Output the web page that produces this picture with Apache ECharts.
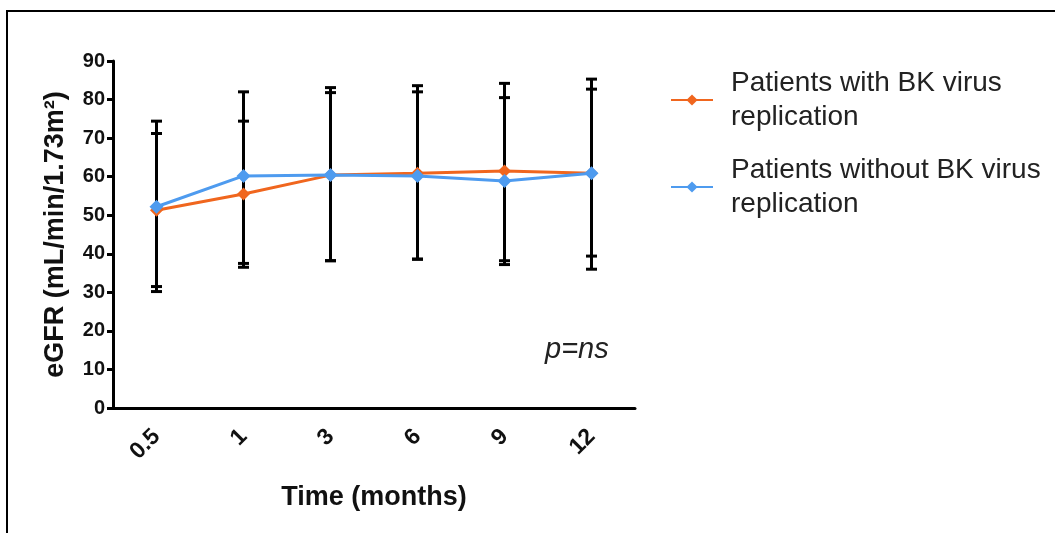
<!DOCTYPE html>
<html><head><meta charset="utf-8">
<script src="https://cdn.jsdelivr.net/npm/echarts@6/dist/echarts.min.js"></script>
<style>html,body{margin:0;padding:0;background:#fff}#c{width:1055px;height:533px}</style>
</head><body><div id="c"></div>
<script>
const categories = ['0.5', '1', '3', '6', '9', '12'];
const yTicks = [0, 10, 20, 30, 40, 50, 60, 70, 80, 90];
const withBK = [51.3, 55.5, 60.4, 60.9, 61.5, 60.9];
const withBKUpper = [71.2, 74.4, 81.8, 83.6, 84.2, 85.3];
const withBKLower = [31.5, 36.5, 38.2, 38.6, 38.2, 36.0];
const withoutBK = [52.2, 60.2, 60.4, 60.2, 58.9, 60.9];
const withoutBKUpper = [74.4, 82.0, 83.1, 82.0, 80.5, 82.7];
const withoutBKLower = [30.2, 37.5, 38.2, 38.6, 37.2, 39.4];
const nameWith = 'Patients with BK virus\nreplication';
const nameWithout = 'Patients without BK virus\nreplication';

const chart = echarts.init(document.getElementById('c'));
const font = '"Liberation Sans", Arial, sans-serif';

function errData(lo, hi) { return categories.map((c, i) => [i, lo[i], hi[i]]); }
function renderErr(params, api) {
  const x = api.value(0);
  const lo = api.coord([x, api.value(1)]);
  const hi = api.coord([x, api.value(2)]);
  const w = 5.5;
  const st = { stroke: '#000', lineWidth: 3 };
  return { type: 'group', children: [
    { type: 'line', shape: { x1: lo[0], y1: lo[1], x2: hi[0], y2: hi[1] }, style: st },
    { type: 'line', shape: { x1: lo[0] - w, y1: lo[1], x2: lo[0] + w, y2: lo[1] }, style: st },
    { type: 'line', shape: { x1: hi[0] - w, y1: hi[1], x2: hi[0] + w, y2: hi[1] }, style: st }
  ]};
}

chart.setOption({
  animation: false,
  backgroundColor: '#fff',
  grid: { left: 113, right: 420, top: 61, bottom: 125 },
  xAxis: {
    type: 'category', data: categories, boundaryGap: true,
    name: 'Time (months)', nameLocation: 'middle', nameGap: 76,
    nameTextStyle: { fontFamily: font, fontWeight: 'bold', fontSize: 27, color: '#111' },
    axisLine: { lineStyle: { color: '#000', width: 3 } },
    axisTick: { alignWithLabel: true, length: 9, lineStyle: { color: '#000', width: 3 } },
    axisLabel: { rotate: 45, fontFamily: font, fontWeight: 'bold', fontSize: 23, color: '#111', margin: 25 }
  },
  yAxis: {
    type: 'value', min: yTicks[0], max: yTicks[yTicks.length - 1], interval: 10,
    name: 'eGFR (mL/min/1.73m²)', nameLocation: 'middle', nameGap: 44,
    nameTextStyle: { fontFamily: font, fontWeight: 'bold', fontSize: 27, color: '#111' },
    axisLine: { show: true, lineStyle: { color: '#000', width: 3 } },
    axisTick: { show: true, length: 6, lineStyle: { color: '#000', width: 3 } },
    axisLabel: { fontFamily: font, fontWeight: 'bold', fontSize: 20, color: '#111', margin: 8 },
    splitLine: { show: false }
  },
  legend: {
    data: [nameWith, nameWithout], orient: 'vertical', left: 670, top: 66, padding: 0,
    itemWidth: 42, itemHeight: 14, itemGap: 19,
    textStyle: { fontFamily: font, fontSize: 28, lineHeight: 34, color: '#222', padding: [0, 0, 0, 13] }
  },
  graphic: [
    { type: 'rect', shape: { x: 7, y: 11, width: 1060, height: 600 }, style: { fill: 'none', stroke: '#000', lineWidth: 2 }, silent: true },
    { type: 'text', x: 545, y: 350, style: { text: 'p=ns', font: 'italic 29px "Liberation Sans", Arial, sans-serif', fill: '#222', verticalAlign: 'middle', align: 'left' } }
  ],
  series: [
    { type: 'custom', name: 'errWith', data: errData(withBKLower, withBKUpper), renderItem: renderErr, z: 1, encode: { x: 0, y: [1, 2] } },
    { type: 'custom', name: 'errWithout', data: errData(withoutBKLower, withoutBKUpper), renderItem: renderErr, z: 1, encode: { x: 0, y: [1, 2] } },
    { type: 'line', name: nameWith, data: withBK, symbol: 'diamond', symbolSize: 13, z: 3,
      itemStyle: { color: '#F0661E' }, lineStyle: { color: '#F0661E', width: 3 } },
    { type: 'line', name: nameWithout, data: withoutBK, symbol: 'diamond', symbolSize: 14, z: 4,
      itemStyle: { color: '#4E9BEF' }, lineStyle: { color: '#4E9BEF', width: 3 } }
  ]
});
</script></body></html>
